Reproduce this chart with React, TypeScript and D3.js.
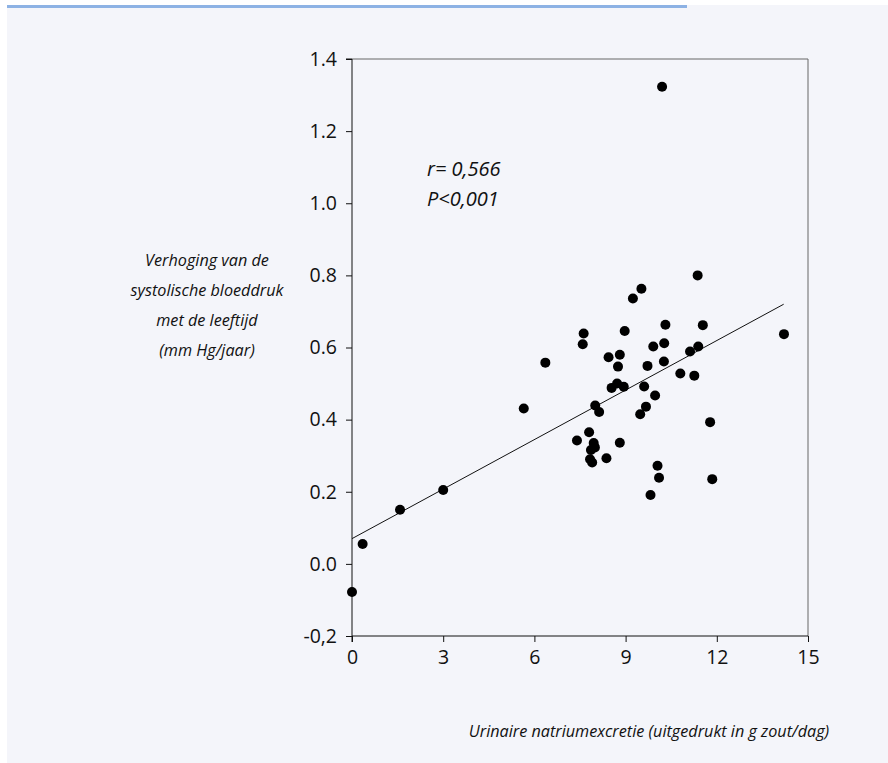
import React, { useEffect, useRef } from 'react';
import * as d3 from 'd3';

// sodium excretion (g salt/day) vs. rise of systolic pressure with age (mm Hg/year)
const saltX = [
  11.37, 9.52, 9.24, 7.62, 7.59, 8.97, 10.31, 11.54, 14.21, 6.36,
  9.91, 10.27, 11.39, 11.12, 8.44, 8.81, 8.75, 10.26, 9.72, 10.8,
  11.26, 5.65, 8.54, 8.72, 8.94, 9.61, 9.97, 9.67, 9.48, 8.0,
  8.13, 11.78, 7.8, 7.4, 7.95, 8.81, 7.99, 7.86, 7.83, 7.9,
  8.37, 10.05, 10.1, 11.85, 9.82, 10.2, 0.0, 0.35, 1.58, 3.0,
];
const bpRise = [
  0.8, 0.763, 0.736, 0.639, 0.609, 0.646, 0.663, 0.662, 0.637, 0.558,
  0.603, 0.612, 0.603, 0.589, 0.573, 0.58, 0.547, 0.561, 0.549, 0.528,
  0.522, 0.431, 0.488, 0.5, 0.491, 0.492, 0.467, 0.436, 0.415, 0.439,
  0.421, 0.393, 0.365, 0.342, 0.335, 0.336, 0.323, 0.316, 0.29, 0.281,
  0.293, 0.272, 0.239, 0.235, 0.191, 1.323, -0.078, 0.055, 0.15, 0.205,
];

// fitted line end points
const fitX = [0, 14.2];
const fitY = [0.07, 0.72];

const xTicks = [0, 3, 6, 9, 12, 15];
const yTicks = [-0.2, 0, 0.2, 0.4, 0.6, 0.8, 1.0, 1.2, 1.4];
const yTickLabels = ['-0,2', '0.0', '0.2', '0.4', '0.6', '0.8', '1.0', '1.2', '1.4'];

const yTitle = ['Verhoging van de', 'systolische bloeddruk', 'met de leeftijd', '(mm Hg/jaar)'];
const xTitle = 'Urinaire natriumexcretie (uitgedrukt in g zout/dag)';
const statLines = ['r= 0,566', 'P<0,001'];

const App = () => {
  const svgRef = useRef(null);

  useEffect(() => {
    const width = 888;
    const height = 763;
    const font = "'Open Sans', 'Noto Sans', sans-serif";

    const svg = d3.select(svgRef.current);
    svg.selectAll('*').remove();

    svg.append('rect')
      .attr('x', 7).attr('y', 5)
      .attr('width', width - 7).attr('height', height - 5)
      .attr('fill', '#f4f5fa');
    svg.append('rect')
      .attr('x', 7).attr('y', 5)
      .attr('width', 680).attr('height', 3)
      .attr('fill', '#8db2e4');

    const x = d3.scaleLinear().domain([0, 15]).range([352, 808]);
    const y = d3.scaleLinear().domain([-0.2, 1.4]).range([636, 59]);

    // frame (top/right)
    svg.append('path')
      .attr('d', `M${x(0)},${y(1.4)}H${x(15)}V${y(-0.2)}`)
      .attr('fill', 'none')
      .attr('stroke', '#666')
      .attr('stroke-width', 1);

    const yAxis = svg.append('g')
      .attr('transform', `translate(${x(0)},0)`)
      .call(d3.axisLeft(y).tickValues(yTicks).tickSize(6).tickPadding(9)
        .tickFormat((d, i) => yTickLabels[i]));
    yAxis.select('.domain').attr('d', `M-6,${y(1.4)}H0V${y(-0.2) + 6}`);

    const xAxis = svg.append('g')
      .attr('transform', `translate(0,${y(-0.2)})`)
      .call(d3.axisBottom(x).tickValues(xTicks).tickSize(6).tickPadding(8));
    xAxis.select('.domain').attr('d', `M${x(0)},0H${x(15)}`);

    svg.selectAll('.tick text')
      .attr('font-family', font)
      .attr('font-size', 19.5)
      .attr('fill', '#111');
    svg.selectAll('.domain, .tick line').attr('stroke', '#111');

    // regression line
    svg.append('line')
      .attr('x1', x(fitX[0])).attr('y1', y(fitY[0]))
      .attr('x2', x(fitX[1])).attr('y2', y(fitY[1]))
      .attr('stroke', '#111')
      .attr('stroke-width', 1);

    svg.append('g')
      .selectAll('circle')
      .data(saltX)
      .join('circle')
      .attr('cx', d => x(d))
      .attr('cy', (d, i) => y(bpRise[i]))
      .attr('r', 5)
      .attr('fill', '#000');

    svg.append('g')
      .selectAll('text')
      .data(statLines)
      .join('text')
      .attr('x', 427)
      .attr('y', (d, i) => 176 + i * 30)
      .attr('font-family', font)
      .attr('font-style', 'italic')
      .attr('font-size', 20)
      .attr('fill', '#111')
      .text(d => d);

    svg.append('g')
      .selectAll('text')
      .data(yTitle)
      .join('text')
      .attr('x', 207)
      .attr('y', (d, i) => 266 + i * 30)
      .attr('text-anchor', 'middle')
      .attr('font-family', font)
      .attr('font-style', 'italic')
      .attr('font-size', 16.2)
      .attr('fill', '#111')
      .text(d => d);

    svg.append('text')
      .attr('x', 649)
      .attr('y', 737)
      .attr('text-anchor', 'middle')
      .attr('font-family', font)
      .attr('font-style', 'italic')
      .attr('font-size', 16.2)
      .attr('fill', '#111')
      .text(xTitle);
  }, []);

  return (
    <svg
      ref={svgRef}
      width={888}
      height={763}
      style={{ position: 'absolute', left: 0, top: 0, background: '#fff' }}
    />
  );
};

export default App;
